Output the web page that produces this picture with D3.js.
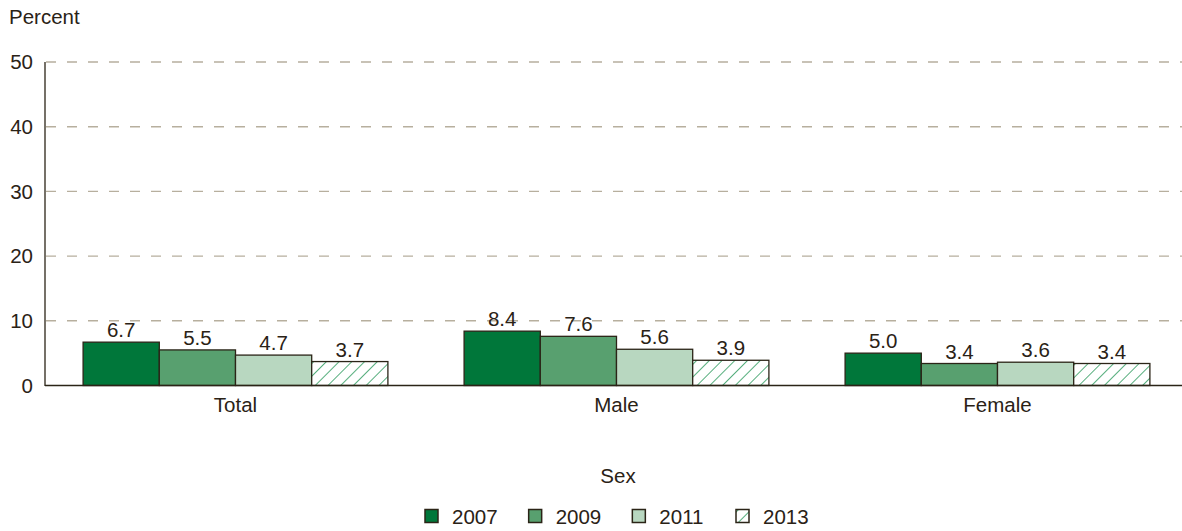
<!DOCTYPE html>
<html><head><meta charset="utf-8">
<script src="https://cdn.jsdelivr.net/npm/d3@7"></script>
<style>body{margin:0;background:#fff}svg{display:block}text{font-family:"Liberation Sans",Arial,sans-serif;fill:#2a2216}</style>
</head><body><svg id="c" width="1182" height="531"></svg>
<script>
const categories = ["Total", "Male", "Female"];
const years = ["2007", "2009", "2011", "2013"];
const v2007 = [6.7, 8.4, 5.0];
const v2009 = [5.5, 7.6, 3.4];
const v2011 = [4.7, 5.6, 3.6];
const v2013 = [3.7, 3.9, 3.4];
const yTicks = [0, 10, 20, 30, 40, 50];
const series = [v2007, v2009, v2011, v2013];
const fills = ["#00773a", "#58a06f", "#b8d7c0", "url(#hatch)"];
const ink = "#2b2417";
const FS = 20.5;

const svg = d3.select("#c");
const defs = svg.append("defs");
const pat = defs.append("pattern").attr("id","hatch").attr("patternUnits","userSpaceOnUse")
  .attr("width",9).attr("height",9).attr("patternTransform","rotate(45)");
pat.append("rect").attr("width",9).attr("height",9).attr("fill","#fff");
pat.append("line").attr("x1",0).attr("y1",0).attr("x2",0).attr("y2",9).attr("stroke","#2a9a5c").attr("stroke-width",1.6);

const x0 = d3.scaleBand().domain(categories).range([45, 1188]).paddingInner(0.2).paddingOuter(0.1);
const x1 = d3.scaleBand().domain(years).range([0, x0.bandwidth()]);
const y = d3.scaleLinear().domain([0, 50]).range([385.5, 62]);

// grid
svg.append("g").selectAll("line").data(yTicks.filter(d=>d>0)).join("line")
  .attr("x1",46).attr("x2",1182).attr("y1",d=>y(d)).attr("y2",d=>y(d))
  .attr("stroke","#b7af9e").attr("stroke-width",1.4).attr("stroke-dasharray","10,11");

// y tick labels
svg.append("g").selectAll("text").data(yTicks).join("text")
  .attr("x",33).attr("y",d=>y(d)).attr("dy","0.36em").attr("text-anchor","end")
  .attr("font-size",FS).text(d=>d);
svg.append("text").attr("x",9).attr("y",24).attr("font-size",FS).text("Percent");

// bars
const g = svg.append("g");
categories.forEach((c,i)=>{
  years.forEach((yr,j)=>{
    const val = series[j][i];
    g.append("rect").attr("x",x0(c)+x1(yr)).attr("y",y(val))
      .attr("width",x1.bandwidth()).attr("height",y(0)-y(val))
      .attr("fill",fills[j]).attr("stroke",ink).attr("stroke-width",1.3);
    g.append("text").attr("x",x0(c)+x1(yr)+x1.bandwidth()/2).attr("y",y(val)-5)
      .attr("text-anchor","middle").attr("font-size",FS).text(val.toFixed(1));
  });
});

// axes lines
svg.append("line").attr("x1",45).attr("x2",45).attr("y1",62).attr("y2",386).attr("stroke",ink).attr("stroke-width",1.3);
svg.append("line").attr("x1",45).attr("x2",1182).attr("y1",385.5).attr("y2",385.5).attr("stroke",ink).attr("stroke-width",1.3);

// category labels
svg.append("g").selectAll("text").data(categories).join("text")
  .attr("x",d=>x0(d)+x0.bandwidth()/2).attr("y",412).attr("text-anchor","middle")
  .attr("font-size",FS).text(d=>d);

svg.append("text").attr("x",618).attr("y",483).attr("text-anchor","middle").attr("font-size",FS).text("Sex");

// legend
const lg = svg.append("g");
const lx = d3.scalePoint().domain(years).range([425, 736]);
years.forEach((yr,j)=>{
  lg.append("rect").attr("x",lx(yr)).attr("y",509.5).attr("width",13).attr("height",13)
    .attr("fill",fills[j]).attr("stroke",ink).attr("stroke-width",1.5);
  lg.append("text").attr("x",lx(yr)+27).attr("y",524).attr("font-size",FS).text(yr);
});
</script></body></html>
